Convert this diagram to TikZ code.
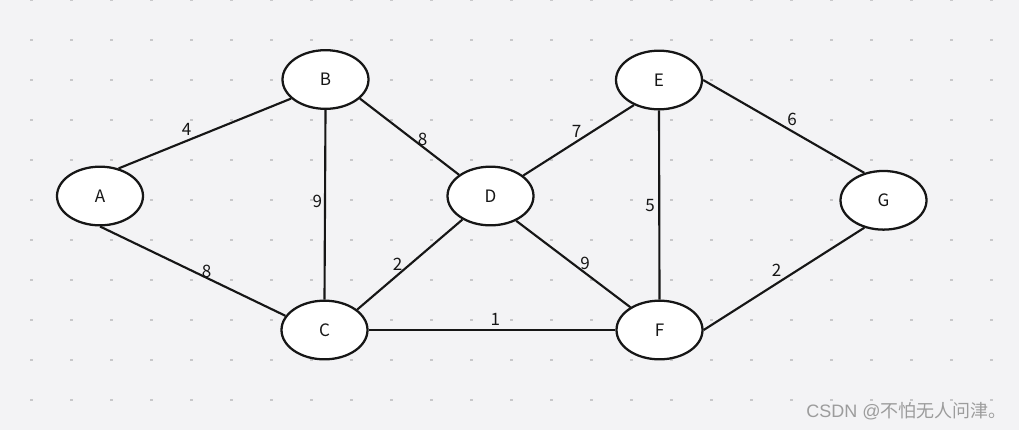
\documentclass[tikz,border=0pt]{standalone}
\usepackage{fontspec}
\setmainfont{Noto Sans CJK SC}
\newfontfamily\wmlatin{Liberation Sans}
\newfontfamily\wmcjk{Noto Sans CJK SC}
\usetikzlibrary{shapes.geometric}
\definecolor{bgc}{HTML}{F3F3F5}
\definecolor{dotc}{HTML}{C8C8CA}
\definecolor{inkc}{HTML}{161616}
\definecolor{wmc}{HTML}{9C9C9C}
\tikzset{
  vert/.style={ellipse, draw=inkc, fill=white, line width=1.7pt,
    minimum width=64.5pt, minimum height=44pt, inner sep=0pt,
    text=inkc, font=\fontsize{12.8}{15}\selectfont},
  edge/.style={draw=inkc, line width=1.6pt},
  wlabel/.style={inner sep=0pt, text=inkc, font=\fontsize{12.8}{15}\selectfont},
}
\begin{document}
\begin{tikzpicture}[x=0.75pt, y=-0.75pt]
\useasboundingbox (0,0) rectangle (1019,430);
\fill[bgc] (0,0) rectangle (1019,430);
\foreach \i in {0,...,24} {
  \foreach \j in {0,...,10} {
    \fill[dotc] ({31.5+40*\i-1.3},{40*\j-1.3}) rectangle ++(2.6,2.6);
  }
}
% vertices
\node[vert] (A) at (100,196) {A};
\node[vert] (B) at (325.5,79.5) {B};
\node[vert] (C) at (324.5,330) {C};
\node[vert] (D) at (490.5,196) {D};
\node[vert] (E) at (659,80) {E};
\node[vert] (F) at (659.5,330) {F};
\node[vert] (G) at (883.5,200.3) {G};
% edges
\draw[edge] (A.56.5) -- (B.-151.2);
\draw[edge] (A.south) -- (C.160.5);
\draw[edge] (B.south) -- (C.north);
\draw[edge] (B.-29.5) -- (D.146.1);
\draw[edge] (C.32.6) -- (D.220.8);
\draw[edge] (C.east) -- (F.west);
\draw[edge] (D.32.6) -- (E.225);
\draw[edge] (D.-44.4) -- (F.142.4);
\draw[edge] (E.south) -- (F.north);
\draw[edge] (E.east) -- (G.125.8);
\draw[edge] (F.east) -- (G.235.1);
% weights
\node[wlabel] (wAB) at (186.5,129) {4};
\node[wlabel] (wAC) at (206.7,271) {8};
\node[wlabel] (wBC) at (317.3,201) {9};
\node[wlabel] (wBD) at (422.7,139.3) {8};
\node[wlabel] (wCD) at (397.7,264.3) {2};
\node[wlabel] (wCF) at (495.3,319.3) {1};
\node[wlabel] (wDE) at (576.7,131) {7};
\node[wlabel] (wDF) at (585,263.3) {9};
\node[wlabel] (wEF) at (650,206) {5};
\node[wlabel] (wEG) at (792,119) {6};
\node[wlabel] (wFG) at (776.7,270.7) {2};
% watermark
\node[anchor=base west, inner sep=0pt, text=wmc, font=\fontsize{13.5}{16}\selectfont] (wm) at (806,417.5) {\wmlatin CSDN @\wmcjk 不怕无人问津。};
\end{tikzpicture}
\end{document}
